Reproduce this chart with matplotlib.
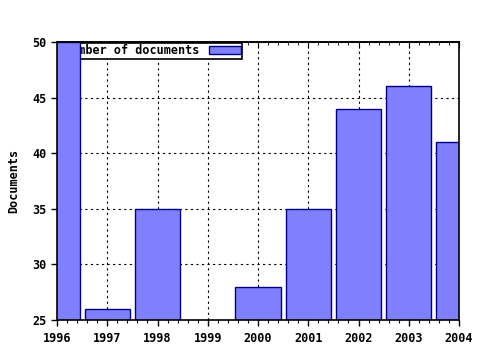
import matplotlib
matplotlib.use('Agg')
import matplotlib.pyplot as plt
from matplotlib.ticker import MultipleLocator

years = [1996, 1997, 1998, 1999, 2000, 2001, 2002, 2003, 2004]
docs = [50, 26, 35, 24, 28, 35, 44, 46, 41]

plt.rcParams['font.family'] = 'DejaVu Sans Mono'
plt.rcParams['font.weight'] = 'bold'
plt.rcParams['font.size'] = 8.5

fig = plt.figure(figsize=(4.8, 3.5), dpi=100)
ax = fig.add_axes([57/480, 30/350, 402/480, 278/350])

ax.bar(years, docs, width=0.9, color='#8080ff', edgecolor='#000080',
       linewidth=1, label='Number of documents', zorder=2)

ax.set_xlim(1996, 2004)
ax.set_ylim(25, 50)
ax.set_xticks(years)
ax.set_yticks([25, 30, 35, 40, 45, 50])
ax.xaxis.set_minor_locator(MultipleLocator(0.2))
ax.grid(True, linestyle=(0, (2, 3)), color='black', linewidth=0.8, zorder=1)
ax.set_axisbelow(True)
ax.tick_params(axis='both', which='major', direction='out', length=4, width=1,
               labelsize=8.5)
ax.tick_params(axis='x', which='major', pad=4.5)
ax.tick_params(axis='x', which='minor', direction='out', length=2.5, width=0.8)

# top ticks point inward
top = ax.secondary_xaxis('top')
top.set_xticks(years)
top.xaxis.set_minor_locator(MultipleLocator(0.2))
top.tick_params(which='major', direction='in', length=4, labeltop=False)
top.tick_params(which='minor', direction='in', length=2)
top.spines['top'].set_linewidth(1.2)

for lab in ax.get_xticklabels() + ax.get_yticklabels():
    lab.set_fontweight('bold')
ax.set_ylabel('Documents', fontweight='bold', fontsize=8.5, labelpad=9)
for s in ax.spines.values():
    s.set_linewidth(1.2)

leg = ax.legend(loc='upper left', bbox_to_anchor=(0.012, 1.0), markerfirst=False,
                fancybox=False, framealpha=1, edgecolor='black',
                borderpad=0.1, handlelength=2.7, handleheight=0.6, handletextpad=0.8,
                borderaxespad=0.1, prop={'family': 'DejaVu Sans Mono', 'weight': 'bold', 'size': 8.5})
leg.get_frame().set_linewidth(1.2)
leg.set_zorder(1.5)

plt.savefig('out.png')
